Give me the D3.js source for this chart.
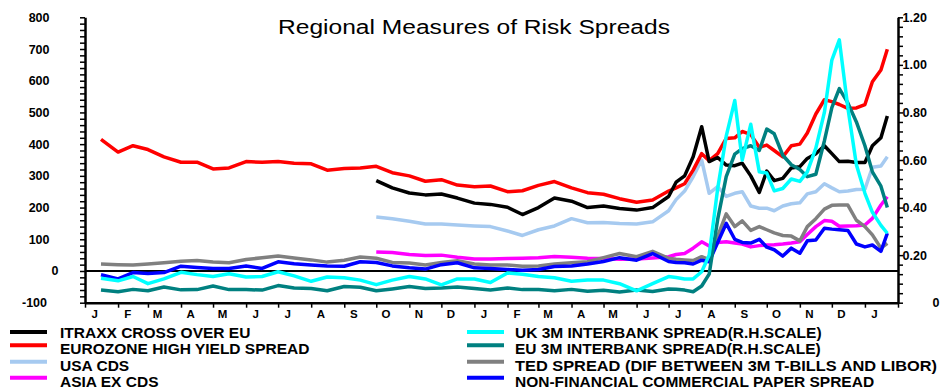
<!DOCTYPE html>
<html>
<head>
<meta charset="utf-8">
<script src="https://cdn.jsdelivr.net/npm/d3@7"></script>
<style>
  html, body { margin: 0; padding: 0; background: #fff; }
  svg { display: block; font-family: "Liberation Sans", Arial, sans-serif; }
</style>
</head>
<body>
<svg id="chart" width="949" height="390"></svg>
<script>
// ---------- DATA ----------
const dates = [
"2007-01-16","2007-02-01","2007-02-15","2007-03-01","2007-03-16","2007-04-01","2007-04-16","2007-05-01","2007-05-16","2007-06-01","2007-06-16","2007-07-01","2007-07-16","2007-08-01","2007-08-16","2007-09-01","2007-09-16","2007-10-01","2007-10-16","2007-11-01","2007-11-16","2007-12-01","2007-12-16",
"2008-01-01","2008-01-16","2008-02-01","2008-02-15","2008-03-01","2008-03-16","2008-04-01","2008-04-16","2008-05-01","2008-05-16","2008-06-01","2008-06-16","2008-07-01",
"2008-07-08","2008-07-16","2008-07-24","2008-08-01","2008-08-08","2008-08-16","2008-08-24","2008-09-01","2008-09-08","2008-09-16","2008-09-24","2008-10-01","2008-10-08","2008-10-16","2008-10-24","2008-11-01","2008-11-08","2008-11-16","2008-11-24","2008-12-01","2008-12-08","2008-12-16","2008-12-24","2009-01-01","2009-01-08","2009-01-16","2009-01-22"];

const N = null;
// left scale (basis points)
const itraxx = [N,N,N,N,N,N,N,N,N,N,N,N,N,N,N,N,N,285,262,246,240,243,230,
  214,210,201,178,200,230,220,200,205,197,192,200,235,
  280,300,360,455,345,358,334,332,340,300,248,315,285,292,325,329,355,370,395,370,345,346,342,342,395,420,489];
const euroHY = [415,375,395,383,360,343,343,322,325,345,343,345,340,338,318,323,325,330,310,300,283,288,271,
  266,268,250,253,270,282,262,247,242,228,217,224,252,
  262,275,318,370,348,370,418,420,440,430,390,397,380,360,395,400,435,495,540,534,525,513,514,525,597,634,699];
const usaCDS = [N,N,N,N,N,N,N,N,N,N,N,N,N,N,N,N,N,170,165,157,148,148,145,
  142,140,126,112,130,142,165,152,153,150,148,155,190,
  225,252,297,350,245,266,235,245,250,205,198,198,190,205,212,215,243,250,275,262,250,252,257,258,327,331,360];
const asiaCDS = [N,N,N,N,N,N,N,N,N,N,N,N,N,N,N,N,N,60,58,52,49,50,43,
  38,38,39,40,42,46,43,40,39,37,38,41,45,
  52,55,72,92,79,90,92,88,85,76,80,82,83,85,88,92,115,140,159,157,141,142,143,145,166,208,234];
const tedSpread = [22,20,19,22,26,31,33,28,26,36,42,47,41,35,28,34,44,40,27,25,19,27,32,
  22,19,19,15,16,22,26,29,42,55,45,62,40,
  37,35,33,45,36,110,180,140,158,128,140,130,120,112,110,95,140,165,195,207,208,208,160,140,114,72,87];
const nonFinCP = [-12,-25,-5,-8,-5,15,11,8,8,16,8,29,23,19,16,15,29,27,16,10,6,20,26,
  10,8,5,2,5,14,16,22,30,42,34,55,30,
  27,26,22,34,29,90,150,100,90,88,100,75,67,47,72,56,95,98,135,132,130,128,85,76,82,62,119];
// right scale (percentage points)
const uk3m = [0.103,0.092,0.11,0.08,0.10,0.128,0.118,0.11,0.122,0.108,0.11,0.13,0.113,0.09,0.108,0.105,0.095,0.076,0.095,0.11,0.10,0.075,0.10,
  0.10,0.085,0.125,0.12,0.11,0.105,0.09,0.095,0.095,0.08,0.05,0.08,0.11,
  0.106,0.10,0.10,0.13,0.2,0.48,0.70,0.85,0.60,0.75,0.55,0.545,0.47,0.48,0.52,0.51,0.55,0.65,0.80,1.02,1.105,0.82,0.58,0.46,0.38,0.325,0.292];
const eu3m = [0.053,0.046,0.056,0.05,0.066,0.054,0.055,0.07,0.055,0.055,0.053,0.072,0.062,0.06,0.05,0.068,0.065,0.05,0.058,0.068,0.06,0.062,0.066,
  0.06,0.053,0.062,0.055,0.055,0.05,0.056,0.048,0.052,0.045,0.053,0.047,0.058,
  0.057,0.053,0.046,0.07,0.12,0.35,0.53,0.625,0.648,0.66,0.64,0.73,0.71,0.62,0.58,0.56,0.53,0.54,0.68,0.82,0.90,0.84,0.76,0.66,0.55,0.49,0.40];

const monthLabels = ["J","F","M","A","M","J","J","A","S","O","N","D","J","F","M","A","M","J","J","A","S","O","N","D","J"];
const leftTickLabels = [-100,0,100,200,300,400,500,600,700,800];
const rightTickLabels = [0,0.2,0.4,0.6,0.8,1.0,1.2];

const titleText = "Regional Measures of Risk Spreads";

const series = [
  {name:"ITRAXX CROSS OVER EU", values: itraxx, color:"#000000", axis:"L"},
  {name:"EUROZONE HIGH YIELD SPREAD", values: euroHY, color:"#ff0000", axis:"L"},
  {name:"USA CDS", values: usaCDS, color:"#a6caf0", axis:"L"},
  {name:"ASIA EX CDS", values: asiaCDS, color:"#ff00ff", axis:"L"},
  {name:"UK 3M INTERBANK SPREAD(R.H.SCALE)", values: uk3m, color:"#00ffff", axis:"R"},
  {name:"EU 3M INTERBANK SPREAD(R.H.SCALE)", values: eu3m, color:"#008080", axis:"R"},
  {name:"TED SPREAD (DIF BETWEEN 3M T-BILLS AND LIBOR)", values: tedSpread, color:"#808080", axis:"L"},
  {name:"NON-FINANCIAL COMMERCIAL PAPER SPREAD", values: nonFinCP, color:"#0000ff", axis:"L"}
];

// ---------- LAYOUT ----------
const plotLeft = 85, plotRight = 898, plotTop = 17.3, plotBottom = 302.7;
const svg = d3.select("#chart");
const parse = d3.utcParse("%Y-%m-%d");
const dateObjs = dates.map(parse);

const x = d3.scaleUtc().domain([Date.UTC(2007,0,1), Date.UTC(2009,1,1)]).range([plotLeft, plotRight]);
const yL = d3.scaleLinear().domain([-100, 800]).range([plotBottom, plotTop]);
const yR = d3.scaleLinear().domain([0, 1.2]).range([plotBottom, plotTop]);

// title
svg.append("text")
  .attr("x", 474).attr("y", 34)
  .attr("text-anchor", "middle")
  .attr("font-size", 19.5)
  .attr("textLength", 392).attr("lengthAdjust", "spacingAndGlyphs")
  .text(titleText);

// zero line
svg.append("line")
  .attr("x1", plotLeft).attr("x2", plotRight)
  .attr("y1", yL(0)).attr("y2", yL(0))
  .attr("stroke", "#000").attr("stroke-width", 2);

// series lines (drawing order)
const drawOrder = [2, 3, 6, 7, 1, 0, 5, 4];
drawOrder.forEach(i => {
  const s = series[i];
  const ys = s.axis === "L" ? yL : yR;
  const line = d3.line()
    .defined(d => d[1] != null)
    .x(d => x(d[0]))
    .y(d => ys(d[1]));
  svg.append("path")
    .datum(dateObjs.map((d, k) => [d, s.values[k]]))
    .attr("d", line)
    .attr("fill", "none")
    .attr("stroke", s.color)
    .attr("stroke-width", 3.5)
    .attr("stroke-linejoin", "round");
});

// left axis
const gL = svg.append("g").attr("transform", `translate(${plotLeft},0)`)
  .call(d3.axisLeft(yL).tickValues(d3.range(-100, 801, 20)).tickSize(5).tickSizeOuter(0).tickFormat(""));
gL.select(".domain").attr("stroke-width", 2.5);
gL.selectAll(".tick line").attr("stroke-width", 1.5);

svg.append("g").selectAll("text").data(leftTickLabels).join("text")
  .attr("x", d => d === 0 ? 58.5 : (d < 0 ? 47 : 49.5))
  .attr("y", d => yL(d))
  .attr("dy", "0.36em")
  .attr("text-anchor", "end")
  .attr("font-size", 12.5).attr("font-weight", "bold")
  .text(d => d);

// right axis
const gR = svg.append("g").attr("transform", `translate(${plotRight},0)`)
  .call(d3.axisRight(yR).tickValues(d3.range(0, 31).map(k => k * 0.04)).tickSize(5).tickSizeOuter(0).tickFormat(""));
gR.select(".domain").attr("stroke-width", 2.5);
gR.selectAll(".tick line").attr("stroke-width", 1.5);

svg.append("g").selectAll("text").data(rightTickLabels).join("text")
  .attr("x", d => d === 0 ? 932.5 : 902.5)
  .attr("y", d => yR(d))
  .attr("dy", "0.36em")
  .attr("font-size", 12.5).attr("font-weight", "bold")
  .text(d => d === 0 ? "0" : d3.format(".2f")(d));

// bottom axis
const months = d3.utcMonth.range(new Date(Date.UTC(2007,0,1)), new Date(Date.UTC(2009,1,2)));
const gB = svg.append("g").attr("transform", `translate(0,${plotBottom})`)
  .call(d3.axisBottom(x).tickValues(months).tickSize(5).tickSizeOuter(0).tickFormat(""));
gB.select(".domain").attr("stroke-width", 2.5);
gB.selectAll(".tick line").attr("stroke-width", 1.5);

svg.append("g").selectAll("text").data(monthLabels).join("text")
  .attr("x", (d, i) => x(d3.utcDay.offset(months[i], 9)))
  .attr("y", 318)
  .attr("text-anchor", "middle")
  .attr("font-size", 11.5).attr("font-weight", "bold")
  .text(d => d);

// legend
const textY = [332, 348.7, 365.3, 381.4];
const swatchY = [332, 345.2, 361.8, 377.8];
const cols = [{sx: 10, tx: 60, items: [0,1,2,3]}, {sx: 467, tx: 515, items: [4,5,6,7]}];
cols.forEach(c => {
  c.items.forEach((si, r) => {
    const s = series[si];
    svg.append("line")
      .attr("x1", c.sx).attr("x2", c.sx + 37)
      .attr("y1", swatchY[r]).attr("y2", swatchY[r])
      .attr("stroke", s.color).attr("stroke-width", 4);
    const t = svg.append("text")
      .attr("x", c.tx).attr("y", textY[r])
      .attr("dy", "0.36em")
      .attr("font-size", 15.5).attr("font-weight", "bold")
      .text(s.name);
    if (si === 6) t.attr("textLength", 422).attr("lengthAdjust", "spacingAndGlyphs");
  });
});
</script>
</body>
</html>
